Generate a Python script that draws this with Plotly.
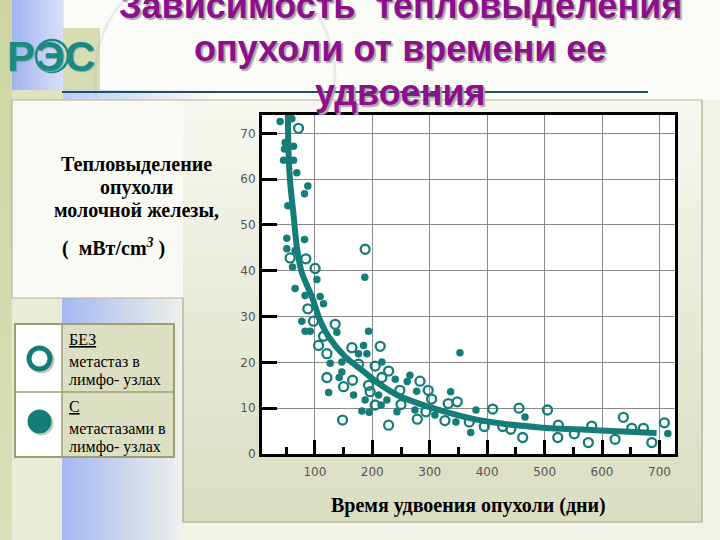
import plotly.graph_objects as go

# ---------------- data ----------------
met_x = [39.5, 60, 48.3, 47.2, 62.9, 45.5, 62.9, 68.6, 87.8, 82, 53, 51.2, 82, 51.2, 65.7,
         61.1, 187, 65.7, 83.1, 109.2, 103.5, 115.1, 77.4, 83, 92, 138.3, 193.5, 184.8, 176,
         190.6, 126.7, 147, 216.7, 147, 142.4, 240, 124, 167.4, 211, 187.6, 225.4, 215.5,
         181.9, 194.6, 242.9, 352.6, 265.5, 260.8, 277.2, 336.4, 274.2, 309, 380.5, 345.6,
         371.3, 465.9, 714.5]
met_y = [72.6, 73.2, 68.0, 66.6, 67.2, 64.1, 64.1, 61.4, 58.5, 56.8, 54.2, 47.1, 46.8, 44.8, 44.4,
         40.8, 38.6, 36.1, 34.6, 34.4, 38.1, 32.8, 29.0, 26.8, 26.8, 26.6, 26.8, 23.7, 21.9,
         21.9, 19.8, 20.1, 20.1, 17.9, 16.7, 16.3, 13.4, 12.9, 12.9, 11.8, 11.8, 10.7,
         9.4, 9.1, 9.2, 22.1, 17.2, 15.8, 13.7, 13.6, 9.6, 8.5, 9.6, 7.0,
         4.7, 8.1, 4.5]

nomet_x = [71.6, 57, 84.3, 100.5, 187.6, 87.8, 97.7, 135.4, 115.1, 106.4, 121, 164.5, 213.8,
           176, 205, 228.4, 121, 165.7, 216.7, 150, 193.5, 196.3, 248, 205, 250, 148.3, 228.4,
           283, 297.4, 303.3, 332.2, 347.9, 293.4, 409.6, 278.4, 326.5, 368.8, 395, 427,
           441, 455.4, 461.8, 505, 523.9, 522.9, 551.7, 582, 576.1, 637.1, 651.7, 672,
           622.6, 686.6, 708.5]
nomet_y = [71.1, 42.8, 42.6, 40.5, 44.7, 31.7, 29.0, 28.3, 25.7, 23.7, 21.9, 23.2, 23.5,
           19.6, 19.2, 18.1, 16.7, 16.1, 16.7, 14.7, 15.0, 13.6, 13.9, 10.7, 10.8, 7.4, 6.3,
           15.9, 13.9, 12.0, 11.0, 11.4, 9.2, 9.8, 7.6, 7.3, 7.0, 6.0, 6.0,
           5.4, 10.0, 3.6, 9.6, 6.3, 3.6, 4.4, 6.1, 2.5, 8.0, 5.6, 5.6,
           3.2, 2.5, 6.8]

fit_x = [53, 54, 57, 63, 69, 77, 95, 109, 124, 153, 182, 211, 248, 306, 364, 422, 492, 588, 695]
fit_y = [74.5, 66.6, 59.3, 52.1, 44.9, 39.7, 34.3, 29.2, 25.6, 21.2, 18.3, 15.4, 12.6, 10.0,
         8.0, 6.7, 5.8, 5.2, 4.6]

x_ticks = [100, 200, 300, 400, 500, 600, 700]
y_ticks = [0, 10, 20, 30, 40, 50, 60, 70]

title_lines = ["Зависимость  тепловыделения", "опухоли от времени ее", "удвоения"]
y_title_lines = ["Тепловыделение", "опухоли", "молочной железы,"]
y_unit = "(  мВт/cm<sup><i>3</i></sup> )"
x_title = "Время удвоения опухоли (дни)"
legend_rows = [("БЕЗ", "метастаз в", "лимфо- узлах"), ("С", "метастазами в", "лимфо- узлах")]

# ---------------- layout helpers ----------------
W, H = 720, 540
L, R, T, B = 262, 45, 115, 86
PW, PH = W - L - R, H - T - B
TEAL = "#147d78"


def px(x):
    return (x - L) / PW


def py(y):
    return (H - B - y) / PH


def mix(c1, c2, t):
    a = [int(c1[i:i + 2], 16) for i in (1, 3, 5)]
    b = [int(c2[i:i + 2], 16) for i in (1, 3, 5)]
    return "#%02x%02x%02x" % tuple(round(a[k] + (b[k] - a[k]) * t) for k in range(3))


shapes = []


def rect(x0, y0, x1, y1, fill, line=None, lw=0, layer="below"):
    shapes.append(dict(type="rect", xref="paper", yref="paper", x0=px(x0), x1=px(x1),
                       y0=py(y1), y1=py(y0), fillcolor=fill, layer=layer,
                       line=dict(color=line or fill, width=lw)))


def vgrad(x0, y0, x1, y1, ctop, cbot, n=24):
    h = (y1 - y0) / n
    for i in range(n):
        rect(x0, y0 + i * h, x1, y0 + (i + 1) * h + 0.6, mix(ctop, cbot, i / (n - 1)))


def hgrad(x0, y0, x1, y1, cl, cr, n=24):
    w = (x1 - x0) / n
    for i in range(n):
        rect(x0 + i * w, y0, x0 + (i + 1) * w + 0.6, y1, mix(cl, cr, i / (n - 1)))


def hline(x0, x1, y, color, width, layer="below"):
    shapes.append(dict(type="line", xref="paper", yref="paper", x0=px(x0), x1=px(x1),
                       y0=py(y), y1=py(y), line=dict(color=color, width=width), layer=layer))


def vline(x, y0, y1, color, width, layer="below"):
    shapes.append(dict(type="line", xref="paper", yref="paper", x0=px(x), x1=px(x),
                       y0=py(y0), y1=py(y1), line=dict(color=color, width=width), layer=layer))


def circle(cx, cy, r, fill, line, lw, layer="above"):
    shapes.append(dict(type="circle", xref="paper", yref="paper", x0=px(cx - r), x1=px(cx + r),
                       y0=py(cy + r), y1=py(cy - r), fillcolor=fill,
                       line=dict(color=line, width=lw), layer=layer))


# ---------------- slide background ----------------
rect(0, 0, W, H, "#f2f3e6")
vgrad(0, 0, 12, H, "#cdd6a2", "#d9dfb8")
rect(12, 0, W, 100, "#fbfbf8")
hgrad(12, 0, 63, 90, "#a2b4ef", "#d6def8")
rect(63, 28, 100, 90, "#d8dcb2")
rect(12, 90, 63, 100, "#dfe3c2")
hgrad(63, 90, 220, 100, "#c0cdf4", "#fbfbf8")
# faint emblem circle
shapes.append(dict(type="circle", xref="paper", yref="paper", x0=px(95), x1=px(335),
                   y0=py(190), y1=py(-40), line=dict(color="rgba(150,175,175,0.18)", width=3),
                   layer="below"))
# lower-left region
rect(12, 298, 183, H, "#e9ecd6")
hgrad(62, 298, 183, H, "#a6b9f2", "#eef0ea")
# main panel
vgrad(183, 100, 702, 522, "#f7f7f0", "#dadec2")
# left text box
rect(12, 100, 183, 298, "#fafaf4")
hline(12, 702, 100, "#b2b495", 1.2)
hline(12, 183, 298, "#b2b495", 1.2)
vline(12, 100, 298, "#b2b495", 1.2)
vline(183, 298, 522, "#a7a98a", 1.2)
vline(702, 100, 522, "#a7a98a", 1.2)
hline(183, 702, 522, "#a7a98a", 1.2)
# plot area
rect(L, T, W - R, H - B, "#ffffff")
# title rule
hline(62, 648, 92, "#24505c", 2)
# logo ring around the middle letter
circle(52, 56, 16, "rgba(0,0,0,0)", "#1b8a80", 2.5, layer="below")

# ---------------- legend table ----------------
rect(15, 324, 62, 457, "#ffffff", layer="above")
rect(62, 324, 174, 457, "#dcdfc1", layer="above")
shapes.append(dict(type="rect", xref="paper", yref="paper", x0=px(15), x1=px(174),
                   y0=py(457), y1=py(324), line=dict(color="#9c9e72", width=2), layer="above"))
hline(15, 174, 392, "#9c9e72", 1.5, layer="above")
vline(62, 324, 457, "#9c9e72", 1.5, layer="above")
circle(41.5, 360.5, 10.5, "rgba(0,0,0,0)", "#c9cbc0", 5)
circle(39.5, 358.5, 10.5, "#ffffff", TEAL, 5)
circle(41.5, 423.5, 12, "#c9cbc0", "#c9cbc0", 0)
circle(39.5, 421.5, 12, TEAL, TEAL, 0)

# ---------------- traces ----------------
fig = go.Figure()
fig.add_trace(go.Scatter(x=fit_x, y=fit_y, mode="lines",
                         line=dict(color=TEAL, width=6, shape="spline", smoothing=0.8),
                         hoverinfo="skip"))
fig.add_trace(go.Scatter(x=nomet_x, y=nomet_y, mode="markers",
                         marker=dict(symbol="circle-open", size=9, color=TEAL,
                                     line=dict(width=2.3, color=TEAL))))
fig.add_trace(go.Scatter(x=met_x, y=met_y, mode="markers",
                         marker=dict(symbol="circle", size=7.5, color=TEAL, line=dict(width=0))))

# ---------------- annotations ----------------
ann = []
SERIF = "Liberation Serif, Times New Roman"


def text(x, y, s, size, family, color="#000000", xanchor="center", shadow=None):
    f = dict(size=size, family=family, color=color)
    if shadow:
        f["shadow"] = shadow
    ann.append(dict(x=px(x), y=py(y), xref="paper", yref="paper", text=s, showarrow=False,
                    xanchor=xanchor, yanchor="middle", font=f))


for s, yy in zip(title_lines, [5, 48, 92]):
    text(400, yy, "<b>%s</b>" % s, 36, "Liberation Sans, Arial", "#8c108c",
         shadow="2px 2px 1px #a8a8a8")
text(51, 56, "<b>РЭС</b>", 42, "Liberation Sans, Arial", "#1b8a80", shadow="1px 1px 1px #7aa")

for s, yy in zip(y_title_lines, [164, 187, 210]):
    text(136, yy, "<b>%s</b>" % s, 20, SERIF)
text(113, 247, "<b>%s</b>" % y_unit, 20, SERIF)
text(468, 505, "<b>%s</b>" % x_title, 20, SERIF)

for (hd, l1, l2), y0 in zip(legend_rows, [339, 406]):
    text(67, y0, "<u>%s</u>" % hd, 16, SERIF, xanchor="left")
    text(67, y0 + 22, l1, 16, SERIF, xanchor="left")
    text(67, y0 + 41, l2, 16, SERIF, xanchor="left")

tickfont = dict(family="DejaVu Sans, Verdana", size=12, color="#555555")
fig.update_layout(
    width=W, height=H, margin=dict(l=L, r=R, t=T, b=B, pad=0),
    paper_bgcolor="#f2f3e6", plot_bgcolor="#ffffff", showlegend=False,
    shapes=shapes, annotations=ann,
    xaxis=dict(range=[8, 727], tickvals=x_ticks, ticks="inside", ticklen=14, tickwidth=3,
               tickcolor="#000000", showline=True, linewidth=3, linecolor="#000000", mirror=True,
               showgrid=True, gridcolor="#8a8a8a", gridwidth=1, zeroline=False, tickfont=tickfont,
               ticklabelstandoff=5,
               minor=dict(ticks="inside", ticklen=7, tickwidth=3, tickcolor="#000000",
                          tick0=50, dtick=100, showgrid=False)),
    yaxis=dict(range=[0, 74], tickvals=y_ticks, ticks="inside", ticklen=15, tickwidth=3,
               tickcolor="#000000", showline=True, linewidth=3, linecolor="#000000", mirror=True,
               showgrid=True, gridcolor="#8a8a8a", gridwidth=1, zeroline=False, tickfont=tickfont,
               ticklabelstandoff=1),
)
fig.write_html("out.html", config={"displayModeBar": False},
               post_script="document.body.style.margin='0px';"
                           "document.documentElement.style.overflow='hidden';")
